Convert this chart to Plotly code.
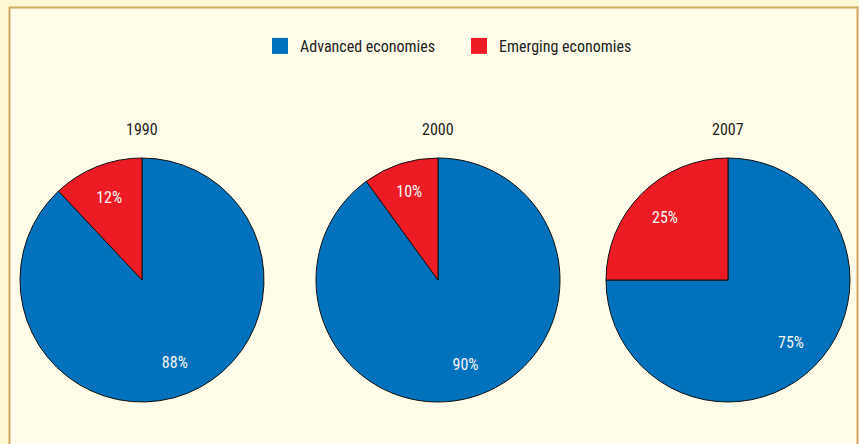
import plotly.graph_objects as go

years = ["1990", "2000", "2007"]
categories = ["Advanced economies", "Emerging economies"]
advanced = [88, 90, 75]
emerging = [12, 10, 25]
colors = ["#0071bc", "#ed1c24"]

W, H = 859, 444
FONT = "Liberation Sans Narrow, Arial Narrow, Roboto Condensed, Roboto, sans-serif"

centers = [142, 438, 728]
cy = 280
r = 122

fig = go.Figure()

# Frame
fig.add_shape(type="rect", xref="paper", yref="paper",
              x0=9.5 / W, x1=857.5 / W, y0=-0.2, y1=1 - 7.5 / H,
              fillcolor="#fffcea", line=dict(color="#d1a862", width=2), layer="below")

for i, yr in enumerate(years):
    cx = centers[i]
    dom = dict(x=[(cx - r) / W, (cx + r) / W], y=[1 - (cy + r) / H, 1 - (cy - r) / H])
    vals = [advanced[i], emerging[i]]
    fig.add_trace(go.Pie(
        labels=categories, values=vals, sort=False, direction="clockwise", rotation=0,
        marker=dict(colors=colors, line=dict(color="#111111", width=1)),
        textinfo="none", hoverinfo="label+percent",
        domain=dom, showlegend=False, name=yr,
    ))
    # transparent ring carrying the percentage labels
    fig.add_trace(go.Pie(
        labels=categories, values=vals, sort=False, direction="clockwise", rotation=0,
        hole=0.46,
        marker=dict(colors=["rgba(0,0,0,0)"] * 2, line=dict(width=0)),
        texttemplate="%{value}%", textposition="inside",
        insidetextorientation="horizontal",
        textfont=dict(family=FONT, size=16, color="#f6f6f6"),
        hoverinfo="skip", domain=dom, showlegend=False, name=yr + " labels",
    ))
    fig.add_annotation(text=yr, x=cx / W, y=1 - 129.5 / H, xref="paper", yref="paper",
                       showarrow=False, xanchor="center", yanchor="middle",
                       font=dict(family=FONT, size=16, color="#231f20"))

# legend entries
for name, col in zip(categories, colors):
    fig.add_trace(go.Scatter(x=[None], y=[None], mode="markers", name=name,
                             marker=dict(symbol="square", size=16, color=col, line=dict(width=0)),
                             hoverinfo="skip"))

fig.update_layout(
    width=W, height=H,
    margin=dict(l=0, r=0, t=0, b=0),
    paper_bgcolor="#fff8d4",
    plot_bgcolor="rgba(0,0,0,0)",
    xaxis=dict(visible=False), yaxis=dict(visible=False),
    font=dict(family=FONT, size=16, color="#231f20"),
    legend=dict(orientation="h", x=260 / W, xanchor="left", y=1 - 46 / H, yanchor="middle",
                bgcolor="rgba(0,0,0,0)", font=dict(family=FONT, size=16, color="#231f20"),
                entrywidth=154, entrywidthmode="pixels", traceorder="normal",
                itemsizing="trace"),
)

fig.write_html("out.html")
